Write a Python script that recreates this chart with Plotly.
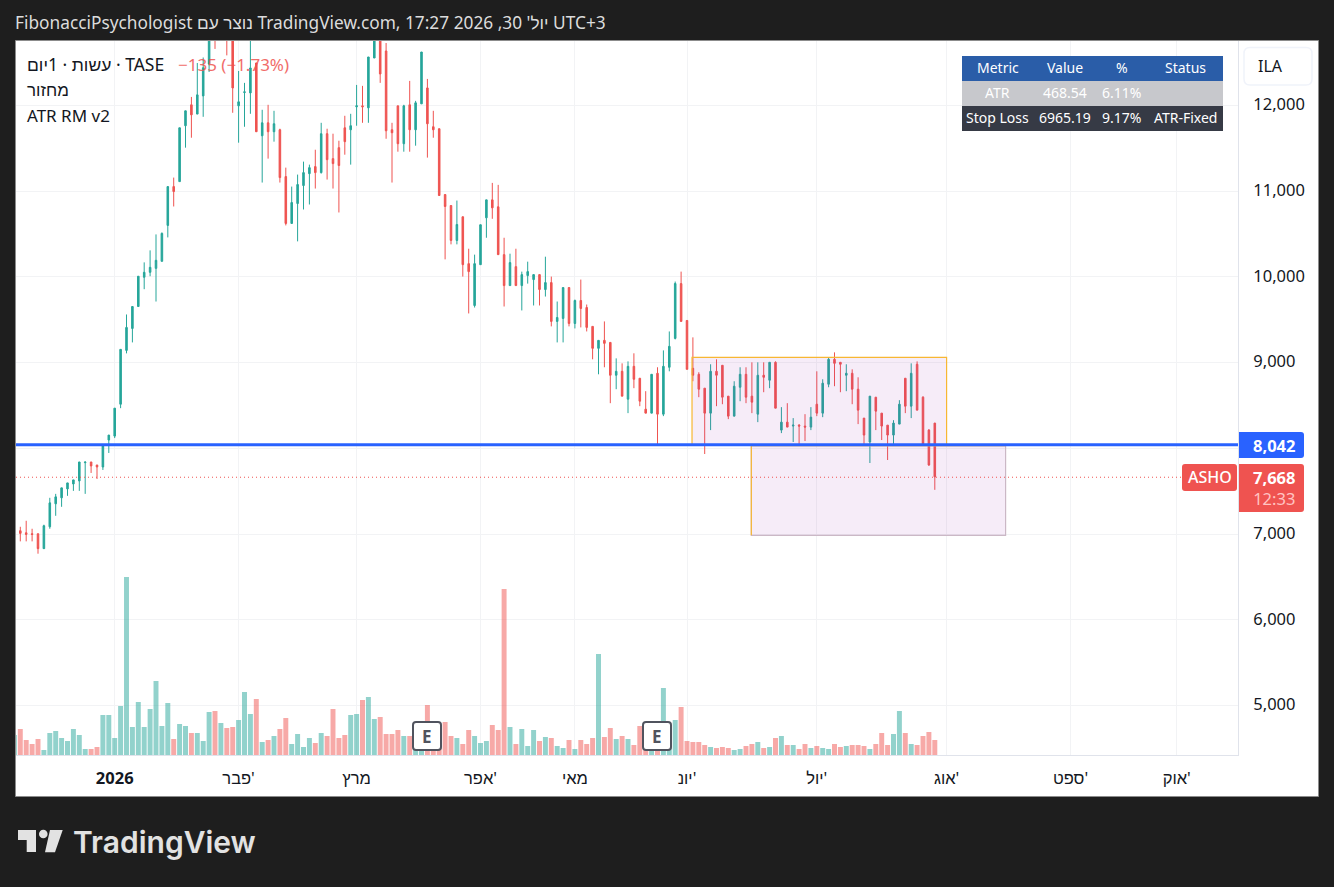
import plotly.graph_objects as go

bar_index = list(range(-1, 156))

opens = [6810, 7039, 7015, 7004, 7004, 6830, 7085, 7353, 7423, 7527, 7585, 7620, 7833, 7841, 7806, 7783, 8097, 8143, 8515, 9143, 9399,
         9655, 9996, 10054, 10100, 10182, 10601, 11054, 11112, 11764, 12008, 11900, 12112, 12484, 13000, 12850, 13100, 12900, 11996, 12151, 12147,
         12496, 11647, 11798, 11694, 11717, 11171, 10624, 10857, 11066, 11205, 11287, 11217, 11671, 11380, 11508, 11740, 11717, 11985, 11996, 11973,
         12554, 12790, 12636, 11717, 11996, 11554, 12008, 11717, 12019, 12205, 11752, 11729, 10961, 10833, 10426, 10702, 10155, 9667, 10143, 10690,
         10899, 10818, 10260, 9899, 10120, 9899, 10016, 9969, 10027, 9853, 9934, 9481, 9516, 9876, 9457, 9725, 9643, 9423, 9167, 9260,
         9236, 8853, 8899, 8574, 8957, 8818, 8457, 8411, 8876, 8399, 8946, 9283, 9922, 9492, 8934, 8864, 8702, 8411, 8899, 8969,
         8609, 8376, 8713, 8864, 8609, 8399, 8853, 8795, 9004, 8213, 8306, 8260, 8271, 8260, 8248, 8515, 8411, 8748, 9039, 9004,
         8853, 8876, 8690, 8353, 8074, 8597, 8411, 8271, 8155, 8283, 8818, 8492, 8981, 8597, 8213, 8295]
highs = [7039, 7085, 7155, 7062, 7004, 7109, 7423, 7469, 7539, 7597, 7632, 7841, 7841, 7841, 7806, 8030, 8155, 8469, 9155, 9562, 9655,
         10008, 10170, 10310, 10496, 10519, 11054, 11159, 11740, 11938, 12100, 12496, 12560, 12850, 13100, 13050, 13200, 12950, 12403, 12264, 12800,
         12496, 11950, 12008, 11938, 11729, 11275, 11054, 11194, 11345, 11310, 11484, 11798, 11729, 11671, 11589, 11880, 11903, 12240, 12229, 12566,
         12900, 12800, 12729, 11798, 11996, 12008, 12287, 12054, 12624, 12310, 11938, 11729, 10961, 10833, 10891, 10702, 10329, 10260, 10609, 10899,
         11097, 11074, 10457, 10271, 10329, 10062, 10178, 10027, 10027, 10236, 10004, 9713, 9876, 9876, 9736, 9969, 9678, 9423, 9260, 9481,
         9236, 9050, 8992, 9015, 9109, 8818, 8667, 8864, 8946, 9143, 9364, 9946, 10062, 9492, 9295, 8888, 8702, 8981, 9039, 8969,
         8609, 8783, 8946, 8946, 9004, 9004, 9004, 9004, 9015, 8481, 8527, 8353, 8283, 8399, 8481, 8899, 8806, 9062, 9120, 9004,
         8981, 8922, 8829, 8353, 8609, 8597, 8411, 8271, 8329, 8562, 8818, 8992, 9015, 8608, 8225, 8295]
lows = [6800, 6915, 6915, 6915, 6771, 6830, 7062, 7213, 7318, 7446, 7504, 7504, 7469, 7713, 7643, 7748, 7946, 8120, 8469, 9108, 9236,
        9655, 9857, 10008, 9713, 10182, 10461, 10822, 11112, 11508, 11624, 11900, 11868, 12391, 12660, 12800, 12585, 11915, 11566, 11752, 11903,
        11694, 11101, 11380, 11578, 11101, 10601, 10624, 10415, 10787, 10845, 11031, 11206, 11136, 11031, 10752, 11426, 11310, 11764, 11798, 11798,
        12554, 12264, 11612, 11101, 11461, 11461, 11461, 11531, 12019, 11392, 11624, 10950, 10205, 10380, 10380, 10004, 9574, 9643, 10143, 10457,
        10678, 10260, 9655, 9899, 9899, 9609, 9922, 9667, 9667, 9771, 9423, 9236, 9236, 9423, 9399, 9411, 9364, 9039, 8864, 8946,
        8527, 8690, 8609, 8411, 8702, 8492, 8411, 8411, 8050, 8376, 8899, 9271, 9481, 8922, 8783, 8597, 7934, 8213, 8492, 8515,
        8341, 8376, 8550, 8527, 8411, 8306, 8655, 8702, 8469, 8178, 8248, 8074, 8050, 8085, 8213, 8376, 8364, 8713, 8725, 8655,
        8667, 8515, 8283, 8050, 7829, 8213, 8097, 7864, 8050, 8283, 8411, 8353, 8446, 8050, 7795, 7516]
closes = [7039, 7008, 6996, 6996, 6830, 7097, 7364, 7434, 7539, 7597, 7632, 7841, 7841, 7795, 7783, 8030, 8155, 8469, 9155, 9411, 9655,
          10008, 10054, 10112, 10194, 10508, 11054, 10996, 11740, 11938, 11891, 12124, 12440, 12800, 12850, 13000, 12900, 12205, 12043, 12159, 12438,
          11694, 11798, 11694, 11787, 11159, 10624, 10868, 11078, 11217, 11275, 11217, 11671, 11368, 11322, 11300, 11578, 11764, 11996, 11985, 12566,
          12790, 12368, 11705, 11682, 11554, 11996, 11717, 12031, 12624, 11787, 11717, 10950, 10822, 10426, 10612, 10143, 10062, 10155, 10609, 10899,
          10806, 10260, 9899, 10167, 9899, 10027, 10062, 10027, 9853, 9934, 9481, 9527, 9876, 9457, 9725, 9632, 9411, 9167, 9260, 9225,
          8853, 8899, 8609, 8957, 8806, 8550, 8411, 8864, 8399, 8957, 9190, 9923, 9481, 8922, 8853, 8690, 8411, 8899, 8853, 8597,
          8376, 8725, 8864, 8597, 8539, 8853, 8829, 9004, 8469, 8306, 8248, 8271, 8260, 8248, 8364, 8411, 8760, 9039, 8992, 8981,
          8876, 8690, 8446, 8155, 8609, 8434, 8260, 8155, 8295, 8515, 8492, 8876, 8446, 8050, 7806, 7668]
volumes = [60, 78, 45, 33, 48, 15, 66, 72, 51, 42, 78, 60, 18, 18, 24, 120, 120, 51, 147, 534, 84,
           159, 84, 138, 222, 87, 156, 48, 93, 87, 66, 66, 42, 129, 132, 96, 81, 84, 105, 189, 123,
           168, 39, 45, 57, 78, 111, 33, 63, 24, 51, 36, 66, 57, 138, 51, 60, 120, 123, 165, 174,
           108, 114, 63, 63, 75, 57, 57, 30, 30, 150, 30, 30, 99, 57, 51, 33, 75, 57, 36, 42,
           90, 75, 498, 84, 33, 78, 27, 75, 42, 54, 51, 27, 21, 45, 18, 45, 33, 51, 303, 54,
           81, 48, 57, 48, 30, 87, 30, 30, 30, 201, 40, 105, 144, 42, 39, 39, 30, 24, 21, 24,
           21, 15, 18, 27, 33, 39, 21, 24, 51, 57, 30, 30, 18, 33, 21, 27, 21, 18, 33, 24,
           27, 30, 30, 27, 18, 33, 66, 30, 63, 132, 66, 33, 30, 57, 69, 45]

month_ticks = [16, 37, 57, 78, 94, 113, 135, 157, 178, 196]
month_labels = ["<b>2026</b>", "פבר'", "מרץ", "אפר'", "מאי", "יונ'", "יול'", "אוג'", "ספט'", "אוק'"]
price_ticks = [5000, 6000, 7000, 8000, 9000, 10000, 11000, 12000]
price_labels = ["5,000", "6,000", "7,000", "", "9,000", "10,000", "11,000", "12,000"]

level_price = 8042
last_price = 7668
box_bottom = 6985
box_top = 9062
box1_start, box1_end = 113.85, 157
box2_start, box2_end = 123.9, 167

table_rows = [["Metric", "Value", "%", "Status"],
              ["ATR", "468.54", "6.11%", ""],
              ["Stop Loss", "6965.19", "9.17%", "ATR-Fixed"]]

UP, DOWN = "#26a69a", "#ef5350"
FONT = "Noto Sans, Liberation Sans, sans-serif"
W, H = 1334, 887
L, R, T, B = 16, 1238, 41, 755

px = lambda x: (x - L) / (R - L)
py = lambda y: (B - y) / (B - T)


def rrect(x0, y0, x1, y1, r=3, rl=None):
    rl = r if rl is None else rl
    X0, X1, Y0, Y1 = px(x0), px(x1), py(y0), py(y1)
    rx, ry = r / (R - L), r / (B - T)
    lx, ly = rl / (R - L), rl / (B - T)
    return (f"M{X0+lx},{Y0} L{X1-rx},{Y0} Q{X1},{Y0} {X1},{Y0-ry} L{X1},{Y1+ry} Q{X1},{Y1} {X1-rx},{Y1} "
            f"L{X0+lx},{Y1} Q{X0},{Y1} {X0},{Y1+ly} L{X0},{Y0-ly} Q{X0},{Y0} {X0+lx},{Y0} Z")


def poly(pts):
    return "M" + " L".join(f"{px(a)},{py(b)}" for a, b in pts) + " Z"


shapes, notes = [], []


def pshape(path, fill, line=None, lw=0, layer="above"):
    shapes.append(dict(type="path", xref="paper", yref="paper", path=path, fillcolor=fill,
                       line=dict(color=line or fill, width=lw), layer=layer))


def text(x, y, s, size=15, color="#131722", anchor="left", family=FONT, opacity=1.0, weight=None):
    font = dict(size=size, color=color, family=family)
    if weight:
        font["weight"] = weight
    notes.append(dict(xref="paper", yref="paper", x=px(x), y=py(y), text=s, showarrow=False,
                      xanchor=anchor, yanchor="middle", font=font, opacity=opacity))


# white chart panel
shapes.append(dict(type="rect", xref="paper", yref="paper", x0=px(15.5), x1=px(1318.5), y0=py(796.5), y1=py(40.5),
                   fillcolor="#ffffff", line=dict(color="#8c8c8c", width=1), layer="below"))

# drawn zones
fill = "rgba(156,39,176,0.09)"
shapes += [
    dict(type="rect", xref="x", yref="y2", x0=box1_start, x1=box1_end, y0=level_price, y1=box_top,
         fillcolor=fill, line=dict(color="#f7b733", width=1.2), layer="above"),
    dict(type="rect", xref="x", yref="y2", x0=box2_start, x1=box2_end, y0=box_bottom, y1=level_price - 10,
         fillcolor=fill, line=dict(color="#cbb8c6", width=1.2), layer="above"),
    dict(type="line", xref="x", yref="y2", x0=box2_start, x1=box2_end, y0=level_price - 10, y1=level_price - 10,
         line=dict(color="#f7b733", width=1.2), layer="above"),
    dict(type="line", xref="x", yref="y2", x0=box2_start, x1=box2_start, y0=box_bottom, y1=level_price - 10,
         line=dict(color="#f7b733", width=1.2), layer="above"),
    dict(type="line", xref="paper", yref="y2", x0=0, x1=1, y0=last_price - 5, y1=last_price - 5,
         line=dict(color=DOWN, width=1, dash="1px 3px"), layer="above"),
    dict(type="line", xref="paper", yref="y2", x0=0, x1=1, y0=level_price, y1=level_price,
         line=dict(color="#2962ff", width=3), layer="above"),
]

# earnings markers
for cx in (427, 657):
    pshape(rrect(cx - 14, 722, cx + 14, 750, 3), "#ffffff", "#50535e", 2)
    text(cx, 736, "<b>E</b>", 17, "#50535e", "center")

# table
row_fill = ["#2a5da8", "#c7c8cc", "#363a45"]
col_x = [997.5, 1065, 1121.5, 1185]
for r, row in enumerate(table_rows):
    y0 = 56 + 25 * r
    shapes.append(dict(type="rect", xref="paper", yref="paper", x0=px(962), x1=px(1223), y0=py(y0 + 25), y1=py(y0),
                       fillcolor=row_fill[r], line=dict(width=0), layer="above"))
    for cx, s in zip(col_x, row):
        if s:
            text(cx, y0 + 12, s, 14, "#ffffff", "center")

# currency button
pshape(rrect(1244, 47.5, 1312, 85, 6), "#ffffff", "#f0f3fa", 1.5)
text(1256, 66.5, "ILA", 16)

# price tags
pshape(rrect(1239, 432, 1304, 458, 3, 0), "#2962ff")
text(1274, 445, "<b>8,042</b>", 16.5, "#ffffff", "center")
pshape(rrect(1239, 464, 1304, 512, 3, 0), DOWN)
text(1274, 487.5, "<b>7,668</b><br><span style='color:#ffc4c2'>12:33</span>", 16.5, "#ffffff", "center")
pshape(rrect(1182, 464, 1237, 491, 3), DOWN)
text(1209.5, 477, "ASHO", 16, "#ffffff", "center", weight=500)

# legend lines
text(25, 64, "עשות · 1יום · TASE", 17.5)
text(176, 64, "−135 (−1.73%)", 17, DOWN, opacity=0.85)
text(25, 90, "מחזור", 17)
text(25, 116, "ATR RM v2", 17)

# header
text(13, 22, "FibonacciPsychologist נוצר עם TradingView.com, 17:27 2026 ,30 יול'\u200f UTC+3", 17.3, "#dcdcdc")

# TradingView logo
LOGO = "#e2e2e2"
pshape(poly([(18, 830), (36, 830), (36, 852), (26.7, 852), (26.7, 840), (18, 840)]), LOGO)
shapes.append(dict(type="circle", xref="paper", yref="paper", x0=px(39), x1=px(47.6), y0=py(838.3), y1=py(829.7),
                   fillcolor=LOGO, line=dict(width=0), layer="above"))
pshape(poly([(50, 830), (62.7, 830), (55, 852.3), (45, 852.3)]), LOGO)
text(71, 842, "TradingView", 30, LOGO, family="Inter, Noto Sans, sans-serif", weight=600)

vol_colors = ["rgba(38,166,154,0.5)" if c >= o else "rgba(239,83,80,0.5)" for o, c in zip(opens, closes)]

fig = go.Figure()
fig.add_trace(go.Bar(x=bar_index, y=volumes, yaxis="y", marker=dict(color=vol_colors, line=dict(width=0)),
                     width=0.84, showlegend=False, hoverinfo="skip"))
fig.add_trace(go.Candlestick(x=bar_index, open=opens, high=highs, low=lows, close=closes, yaxis="y2",
                             increasing=dict(line=dict(color=UP, width=1), fillcolor=UP),
                             decreasing=dict(line=dict(color=DOWN, width=1), fillcolor=DOWN),
                             whiskerwidth=0, showlegend=False))

price_at = lambda y: 12000 - (y - 105.5) * (1000 / 85.714)
fig.update_layout(
    width=W, height=H, autosize=False,
    margin=dict(l=L, r=W - R, t=T, b=H - B, pad=0),
    paper_bgcolor="#1e1e1e", plot_bgcolor="rgba(0,0,0,0)",
    font=dict(family=FONT, size=15, color="#131722"),
    boxgap=0.62, bargap=0.15, showlegend=False,
    shapes=shapes, annotations=notes,
    xaxis=dict(range=[(L - 20.3) / 5.9, (R - 20.3) / 5.9], rangeslider=dict(visible=False),
               tickmode="array", tickvals=month_ticks, ticktext=month_labels,
               ticks="outside", ticklen=8, tickcolor="rgba(0,0,0,0)", tickfont=dict(size=16.5, color="#131722"),
               showgrid=True, gridcolor="#f2f3f5", gridwidth=1, zeroline=False,
               showline=True, linecolor="#e0e3eb", linewidth=1),
    yaxis=dict(range=[0, (B - T) * 3], visible=False, showgrid=False, zeroline=False),
    yaxis2=dict(range=[price_at(B), price_at(T)], overlaying="y", side="right", anchor="x",
                tickmode="array", tickvals=price_ticks, ticktext=price_labels,
                ticks="outside", ticklen=11, tickcolor="rgba(0,0,0,0)", tickfont=dict(size=16.5, color="#131722"),
                ticklabelshift=-1,
                showgrid=True, gridcolor="#f2f3f5", gridwidth=1, zeroline=False,
                showline=True, linecolor="#e0e3eb", linewidth=1),
)

fig.write_html("out.html", config=dict(displayModeBar=False),
               post_script="document.body.style.margin='0';document.body.style.background='#1e1e1e';document.body.style.overflow='hidden';")
